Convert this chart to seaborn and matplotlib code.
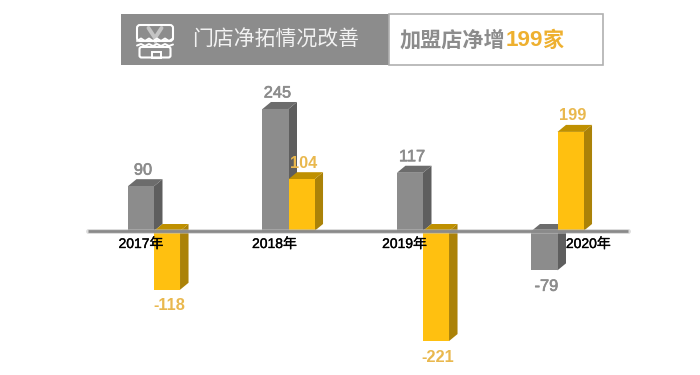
import numpy as np
import pandas as pd
import matplotlib
matplotlib.use('Agg')
import matplotlib.pyplot as plt
import matplotlib.patheffects as pe
import seaborn as sns
from matplotlib.patches import Polygon, Rectangle, FancyBboxPatch

years = ['2017年', '2018年', '2019年', '2020年']
grey_vals = [90, 245, 117, -79]
gold_vals = [-118, 104, -221, 199]
series_names = ['直营', '加盟']
title_left = '门店净拓情况改善'
title_right_a = '加盟店净增'
title_right_b = '199'
title_right_c = '家'

GREY = '#8c8c8c'
GOLD = '#ffc010'
GOLD_TXT = '#e9b84e'

sns.set_theme(style='white')
cjk = ['Noto Sans CJK SC', 'DejaVu Sans']
plt.rcParams['font.family'] = ['Liberation Sans', 'Noto Sans CJK SC']

df = pd.DataFrame({
    'year': years * 2,
    'val': grey_vals + gold_vals,
    'kind': [series_names[0]] * 4 + [series_names[1]] * 4,
})

fig = plt.figure(figsize=(7, 3.75), dpi=100, facecolor='white')
ax = fig.add_axes([0, 0, 1, 1])

sns.barplot(data=df, x='year', y='val', hue='kind', order=years, hue_order=series_names,
            palette=[GREY, GOLD], width=0.387, gap=0, dodge=True, legend=False,
            errorbar=None, saturation=1, ax=ax)

# pixels -> data: groups 134.5px apart, 0.498px per store, zero line at y=231
px_x = 134.5
px_y = 0.498
ax.set_xlim(-154 / px_x, (700 - 154) / px_x)
ax.set_ylim(-(375 - 231) / px_y, 231 / px_y)
ax.axis('off')

# thin outline stands in for the heavier weight of the original labels
heavy = [pe.withStroke(linewidth=0.45, foreground=GREY)]

# fake 3d depth
dx = 8.5 / px_x
dy = 7 / px_y
bars = [p for p in ax.patches if isinstance(p, Rectangle)]
for i, p in enumerate(list(bars)):
    gold = i >= 4
    base = 3 if gold else 2
    x, w, h = p.get_x(), p.get_width(), p.get_height()
    side_c = '#ab8208' if gold else '#5e5e5e'
    top_c = '#bf9000' if gold else '#6c6c6c'
    p.set_zorder(base + 0.2)
    p.set_linewidth(0)
    side = Polygon([(x + w, 0), (x + w + dx, dy), (x + w + dx, h + dy), (x + w, h)],
                   closed=True, fc=side_c, ec='none', zorder=base)
    top_y = max(h, 0)
    top = Polygon([(x, top_y), (x + dx, top_y + dy), (x + w + dx, top_y + dy), (x + w, top_y)],
                  closed=True, fc=top_c, ec='none', zorder=base + 0.1)
    ax.add_patch(side)
    ax.add_patch(top)
    # value labels
    off = 16 if h > 0 else -16
    t = ax.annotate(f'{int(round(h))}', (x + w / 2, h), xytext=(2, off), textcoords='offset pixels',
                    ha='center', va='center', fontsize=11.8,
                    fontweight='bold' if gold else 'normal',
                    color=GOLD_TXT if gold else GREY, zorder=6)
    if not gold:
        t.set_path_effects(heavy)

# zero line with soft shadow
lx0, lx1 = (88 - 154) / px_x, (628 - 154) / px_x
ax.plot([lx0, lx1], [-0.3 / px_y, -0.3 / px_y], color='#bdbdbd', lw=3.6, alpha=0.5, zorder=4.5,
        solid_capstyle='round')
ax.plot([lx0, lx1], [-0.3 / px_y, -0.3 / px_y], color='#8a8a8a', lw=2.0, zorder=5, solid_capstyle='butt')

# year labels sit off-centre in the original
year_shift = [-13, -14, -18.5, 31]
for i, lab in enumerate(years):
    t = ax.annotate(lab, (i, 0), xytext=(year_shift[i], -13), textcoords='offset pixels',
                    ha='center', va='center', fontsize=10, color='black', zorder=7)
    t.set_path_effects([pe.withStroke(linewidth=0.25, foreground='black')])

# header banner, pixel coordinates
hd = fig.add_axes([0, 0, 1, 1], facecolor='none')
hd.set_xlim(0, 700)
hd.set_ylim(375, 0)
hd.axis('off')
hd.add_patch(Rectangle((121, 14), 268, 51, fc='#8c8c8c', ec='none'))
hd.add_patch(Rectangle((389, 14), 214, 51, fc='white', ec='#b0b0b0', lw=1.2))
hd.text(192, 39.5, title_left, family=cjk, fontsize=15, color='#f2f2f2', va='center', ha='left')
hd.text(400, 40.5, title_right_a, family=cjk, fontsize=15.2, fontweight='bold', color='#8c8c8c', va='center')
hd.text(506, 40.5, title_right_b, fontsize=16.2, fontweight='bold', color='#eeb02f', va='center')
hd.text(543, 40.5, title_right_c, family=cjk, fontsize=15.2, fontweight='bold', color='#eeb02f', va='center')

# shop icon
hd.plot([148.5, 155, 161.5], [28, 38, 28], color='#c4c4c4', lw=2.8, zorder=3)
hd.plot([155, 155], [38, 42], color='#c4c4c4', lw=2.2, zorder=3)
hd.add_patch(FancyBboxPatch((137, 25), 36, 16, boxstyle='round,pad=0,rounding_size=3',
                            fc='none', ec='white', lw=1.5, zorder=4))
hd.add_patch(FancyBboxPatch((139.5, 47), 31, 10.5, boxstyle='round,pad=0,rounding_size=2',
                            fc='#8c8c8c', ec='white', lw=1.5, zorder=4))
hd.add_patch(Rectangle((152, 52), 9, 5.5, fc='none', ec='white', lw=1.4, zorder=5))
wave_x = [137, 141, 145, 149, 153, 157, 161, 165, 169, 173]
wave_a = [41, 38.5, 41, 38.5, 41, 38.5, 41, 38.5, 41, 38.5]
wave_b = [45.5, 44, 46, 44, 46, 44, 46, 44, 46, 44.5]
hd.plot(wave_x, wave_a, color='white', lw=1.4, zorder=5)
hd.plot(wave_x, wave_b, color='white', lw=1.4, zorder=5)

fig.savefig('out.png', dpi=100)
